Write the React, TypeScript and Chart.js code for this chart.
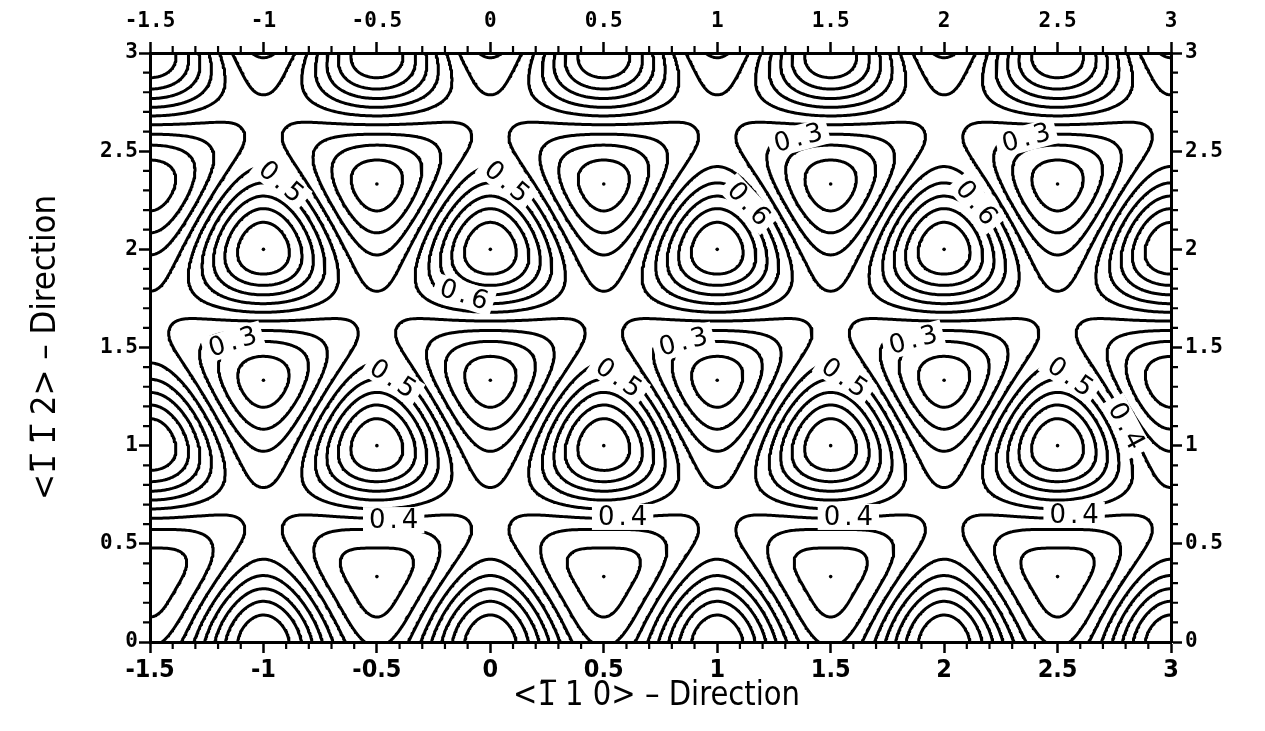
import React, { useEffect, useRef } from 'react';
import { Chart, registerables } from 'chart.js';

Chart.register(...registerables);

// ---- axes ----
const X_MIN = -1.5;
const X_MAX = 3;
const Y_MIN = 0;
const Y_MAX = 3;
const xTickValues = [-1.5, -1, -0.5, 0, 0.5, 1, 1.5, 2, 2.5, 3];
const xTickLabels = ['-1.5', '-1', '-0.5', '0', '0.5', '1', '1.5', '2', '2.5', '3'];
const yTickValues = [0, 0.5, 1, 1.5, 2, 2.5, 3];
const yTickLabels = ['0', '0.5', '1', '1.5', '2', '2.5', '3'];
const MINOR_STEP = 0.1;

const xTitle = '<1\u0305 1 0> \u2013 Direction';
const yTitle = '<1\u0305 1\u0305 2> \u2013 Direction';

// ---- contour levels of the adsorption energy surface ----
const contourLevels = [0.1, 0.2, 0.3, 0.4, 0.5, 0.6, 0.7, 0.8, 0.9];

// energies at the three high-symmetry sites of the (111) surface
const topSiteEnergy = 1.01; // on-top site (maximum)
const plateauEnergy = 0.427; // second hollow site
const wellSiteEnergy = 0.04; // preferred hollow site (minimum)
const topSharpness = 1.0;
const wellSharpness = 0.724;

// rows of hollows whose wells are shallower
const shallowRowY = [0.333, 3.333];
const shallowRowLift = [0.13, 0.16];
const shallowRowSharpness = 4;

// site markers (dots at the extrema)
const wellDotX = [-0.5, 0.5, 1.5, 2.5, -1, 0, 1, 2, -0.5, 0.5, 1.5, 2.5];
const wellDotY = [2.333, 2.333, 2.333, 2.333, 1.333, 1.333, 1.333, 1.333, 0.333, 0.333, 0.333, 0.333];
const topDotX = [-1, 0, 1, 2, -0.5, 0.5, 1.5, 2.5];
const topDotY = [2, 2, 2, 2, 1, 1, 1, 1];

// inline contour labels
const labelText = ['0.5', '0.5', '0.6', '0.6', '0.3', '0.6', '0.3', '0.3', '0.5', '0.4', '0.3', '0.5', '0.3', '0.5', '0.4', '0.4', '0.4', '0.5', '0.4'];
const labelX = [-0.923, 0.072, -0.117, 1.138, 1.358, 2.142, 2.362, -1.135, -0.43, -0.426, 0.851, 0.565, 1.864, 1.56, 0.583, 1.578, 2.573, 2.555, 2.802];
const labelY = [2.343, 2.343, 1.768, 2.231, 2.567, 2.236, 2.567, 1.528, 1.34, 0.621, 1.528, 1.345, 1.538, 1.345, 0.637, 0.637, 0.647, 1.35, 1.1];
const labelAngle = [40, 40, 18, 47, -15, 50, -15, -17, 33, 0, -15, 35, -15, 35, 0, 0, 0, 35, 62];

// ---- energy surface ----
const SQ3_2 = Math.sqrt(3) / 2;
const G = (4 * Math.PI) / Math.sqrt(3);
const gVecs = [90, 210, 330].map((a) => [G * Math.cos((a * Math.PI) / 180), G * Math.sin((a * Math.PI) / 180)]);

function energy(x: number, y: number): number {
  const px = x;
  const py = y * SQ3_2;
  let f = 0;
  let g = 0;
  for (const [gx, gy] of gVecs) {
    const ph = gx * px + gy * py;
    f += Math.cos(ph);
    g += Math.sin(ph);
  }
  const fWell = -0.5 * f + SQ3_2 * g;
  const top = Math.max(0, (f + 1.5) / 4.5);
  const well = Math.max(0, (fWell + 1.5) / 4.5);
  let e =
    plateauEnergy +
    (topSiteEnergy - plateauEnergy) * Math.pow(top, topSharpness) -
    (plateauEnergy - wellSiteEnergy) * Math.pow(well, wellSharpness);
  shallowRowY.forEach((ry, k) => {
    if (Math.abs(y - ry) < 0.5) e += shallowRowLift[k] * Math.pow(well, shallowRowSharpness);
  });
  return e;
}

type Pt = { x: number; y: number };

function contourLines(values: Float64Array, xs: number[], ys: number[], level: number): Pt[][] {
  const nx = xs.length;
  const ny = ys.length;
  const val = (i: number, j: number) => values[j * nx + i];
  const pointOf = new Map<number, Pt>();
  const segA: number[] = [];
  const segB: number[] = [];
  const hId = (i: number, j: number) => j * nx + i;
  const vId = (i: number, j: number) => nx * ny + j * nx + i;
  const edgePt = (id: number) => {
    if (pointOf.has(id)) return;
    let p: Pt;
    if (id < nx * ny) {
      const j = Math.floor(id / nx);
      const i = id % nx;
      const a = val(i, j);
      const b = val(i + 1, j);
      const t = (level - a) / (b - a);
      p = { x: xs[i] + t * (xs[i + 1] - xs[i]), y: ys[j] };
    } else {
      const k = id - nx * ny;
      const j = Math.floor(k / nx);
      const i = k % nx;
      const a = val(i, j);
      const b = val(i, j + 1);
      const t = (level - a) / (b - a);
      p = { x: xs[i], y: ys[j] + t * (ys[j + 1] - ys[j]) };
    }
    pointOf.set(id, p);
  };
  const add = (a: number, b: number) => {
    edgePt(a);
    edgePt(b);
    segA.push(a);
    segB.push(b);
  };
  for (let j = 0; j < ny - 1; j++) {
    for (let i = 0; i < nx - 1; i++) {
      const v0 = val(i, j);
      const v1 = val(i + 1, j);
      const v2 = val(i + 1, j + 1);
      const v3 = val(i, j + 1);
      const b0 = v0 >= level;
      const b1 = v1 >= level;
      const b2 = v2 >= level;
      const b3 = v3 >= level;
      const e: number[] = [];
      if (b0 !== b1) e.push(hId(i, j));
      if (b1 !== b2) e.push(vId(i + 1, j));
      if (b2 !== b3) e.push(hId(i, j + 1));
      if (b3 !== b0) e.push(vId(i, j));
      if (e.length === 2) add(e[0], e[1]);
      else if (e.length === 4) {
        const c = (v0 + v1 + v2 + v3) / 4 >= level;
        if (c === b0) {
          add(e[0], e[1]);
          add(e[2], e[3]);
        } else {
          add(e[0], e[3]);
          add(e[2], e[1]);
        }
      }
    }
  }
  const adj = new Map<number, number[]>();
  for (let s = 0; s < segA.length; s++) {
    for (const id of [segA[s], segB[s]]) {
      const l = adj.get(id);
      if (l) l.push(s);
      else adj.set(id, [s]);
    }
  }
  const used = new Uint8Array(segA.length);
  const walk = (startSeg: number, startId: number): Pt[] => {
    const ids = [startId];
    let seg = startSeg;
    let cur = startId;
    for (;;) {
      used[seg] = 1;
      const next = segA[seg] === cur ? segB[seg] : segA[seg];
      ids.push(next);
      let found = -1;
      for (const s of adj.get(next)!) {
        if (!used[s]) {
          found = s;
          break;
        }
      }
      if (found < 0) break;
      seg = found;
      cur = next;
    }
    return ids.map((id) => pointOf.get(id)!);
  };
  const lines: Pt[][] = [];
  for (const [id, list] of adj) {
    if (list.length === 1 && !used[list[0]]) lines.push(walk(list[0], id));
  }
  for (let s = 0; s < segA.length; s++) {
    if (!used[s]) lines.push(walk(s, segA[s]));
  }
  return lines;
}

function buildDatasets() {
  const step = 0.0075;
  const xs: number[] = [];
  const ys: number[] = [];
  for (let k = 0; X_MIN + k * step <= X_MAX + 1e-9; k++) xs.push(X_MIN + k * step);
  for (let k = 0; Y_MIN + k * step <= Y_MAX + 1e-9; k++) ys.push(Y_MIN + k * step);
  const values = new Float64Array(xs.length * ys.length);
  for (let j = 0; j < ys.length; j++) {
    for (let i = 0; i < xs.length; i++) values[j * xs.length + i] = energy(xs[i], ys[j]);
  }
  const datasets: any[] = [];
  for (const level of contourLevels) {
    for (const line of contourLines(values, xs, ys, level)) {
      if (line.length < 2) continue;
      datasets.push({
        label: `E = ${level}`,
        data: line,
        showLine: true,
        parsing: false,
        borderColor: '#000',
        borderWidth: 3,
        borderJoinStyle: 'round',
        borderCapStyle: 'round',
        pointRadius: 0,
        tension: 0,
        fill: false,
      });
    }
  }
  const dots: Pt[] = [];
  wellDotX.forEach((x, k) => dots.push({ x, y: wellDotY[k] }));
  topDotX.forEach((x, k) => dots.push({ x, y: topDotY[k] }));
  datasets.push({
    label: 'sites',
    data: dots,
    showLine: false,
    parsing: false,
    pointRadius: 1.8,
    pointBackgroundColor: '#000',
    pointBorderWidth: 0,
  });
  return datasets;
}

const minorTicksPlugin = {
  id: 'minorTicks',
  afterDraw(chart: any) {
    const { ctx, chartArea: a, scales } = chart;
    const len = 7;
    ctx.save();
    ctx.strokeStyle = '#000';
    ctx.lineWidth = 2.2;
    ctx.beginPath();
    const nX = Math.round((X_MAX - X_MIN) / MINOR_STEP);
    for (let k = 0; k <= nX; k++) {
      if (k % 5 === 0) continue;
      const px = scales.x.getPixelForValue(X_MIN + k * MINOR_STEP);
      ctx.moveTo(px, a.bottom);
      ctx.lineTo(px, a.bottom + len);
      ctx.moveTo(px, a.top);
      ctx.lineTo(px, a.top - len);
    }
    const nY = Math.round((Y_MAX - Y_MIN) / MINOR_STEP);
    for (let k = 0; k <= nY; k++) {
      if (k % 5 === 0) continue;
      const py = scales.y.getPixelForValue(Y_MIN + k * MINOR_STEP);
      ctx.moveTo(a.left, py);
      ctx.lineTo(a.left - len, py);
      ctx.moveTo(a.right, py);
      ctx.lineTo(a.right + len, py);
    }
    ctx.stroke();
    ctx.restore();
  },
};

const contourLabelPlugin = {
  id: 'contourLabels',
  afterDatasetsDraw(chart: any) {
    const { ctx, scales } = chart;
    ctx.save();
    ctx.font = '26px "DejaVu Sans"';
    (ctx as any).letterSpacing = '4px';
    ctx.textAlign = 'center';
    ctx.textBaseline = 'middle';
    labelText.forEach((text, k) => {
      const px = scales.x.getPixelForValue(labelX[k]);
      const py = scales.y.getPixelForValue(labelY[k]);
      const w = ctx.measureText(text).width;
      ctx.save();
      ctx.translate(px, py);
      ctx.rotate((labelAngle[k] * Math.PI) / 180);
      ctx.fillStyle = '#fff';
      ctx.fillRect(-w / 2 - 4, -13, w + 8, 26);
      ctx.fillStyle = '#000';
      ctx.fillText(text, 2, 1);
      ctx.restore();
    });
    ctx.restore();
  },
};

// axis titles, stretched to the widths of the printed captions
const axisTitlePlugin = {
  id: 'axisTitles',
  afterDraw(chart: any) {
    const { ctx, chartArea: a } = chart;
    ctx.save();
    ctx.font = '34px "DejaVu Sans Condensed", "DejaVu Sans"';
    ctx.fillStyle = '#000';
    ctx.textAlign = 'center';
    ctx.textBaseline = 'alphabetic';
    const w1 = ctx.measureText(xTitle).width;
    ctx.save();
    ctx.translate((a.left + a.right) / 2 - 4, 705);
    ctx.scale(287 / w1, 1);
    ctx.fillText(xTitle, 0, 0);
    ctx.restore();
    const w2 = ctx.measureText(yTitle).width;
    ctx.save();
    ctx.translate(55, (a.top + a.bottom) / 2);
    ctx.rotate(-Math.PI / 2);
    ctx.scale(305 / w2, 1);
    ctx.fillText(yTitle, 0, 0);
    ctx.restore();
    ctx.restore();
  },
};

const tickFont = { family: '"DejaVu Sans Mono"', size: 21, weight: 'bold' as const };
const bottomTickFont = { family: '"DejaVu Sans Condensed", "DejaVu Sans"', size: 25, weight: 'bold' as const };

function axisCommon(values: number[], labels: string[], min: number, max: number, font: any, padding: number) {
  return {
    type: 'linear' as const,
    min,
    max,
    afterBuildTicks: (scale: any) => {
      scale.ticks = values.map((value) => ({ value }));
    },
    ticks: {
      callback: (_v: any, index: number) => labels[index],
      font,
      color: '#000',
      autoSkip: false,
      maxRotation: 0,
      padding,
    },
    grid: {
      display: true,
      drawOnChartArea: false,
      drawTicks: true,
      tickLength: 11,
      tickWidth: 2.5,
      tickColor: '#000',
    },
    border: { display: true, color: '#000', width: 3 },
    title: { display: false },
  };
}

export default function App() {
  const ref = useRef<HTMLCanvasElement>(null);
  useEffect(() => {
    const canvas = ref.current;
    if (!canvas) return;
    const chart = new Chart(canvas, {
      type: 'scatter',
      data: { datasets: buildDatasets() },
      options: {
        animation: false,
        responsive: false,
        devicePixelRatio: 1,
        events: [],
        layout: { padding: 0 },
        plugins: { legend: { display: false }, tooltip: { enabled: false }, title: { display: false } },
        scales: {
          x: {
            ...axisCommon(xTickValues, xTickLabels, X_MIN, X_MAX, bottomTickFont, 2),
            position: 'bottom',
            afterFit: (s: any) => {
              s.height = 89;
            },
          },
          x2: {
            ...axisCommon(xTickValues, xTickLabels, X_MIN, X_MAX, tickFont, 8),
            position: 'top',
            afterFit: (s: any) => {
              s.height = 53;
            },
          },
          y: {
            ...axisCommon(yTickValues, yTickLabels, Y_MIN, Y_MAX, tickFont, 1),
            position: 'left',
            afterFit: (s: any) => {
              s.width = 150;
            },
          },
          y2: {
            ...axisCommon(yTickValues, yTickLabels, Y_MIN, Y_MAX, tickFont, 3),
            position: 'right',
            afterFit: (s: any) => {
              s.width = 94;
            },
          },
        } as any,
      },
      plugins: [minorTicksPlugin, contourLabelPlugin, axisTitlePlugin],
    });
    return () => chart.destroy();
  }, []);
  return (
    <div style={{ position: 'fixed', left: 0, top: 0, width: 1265, height: 731, background: '#fff' }}>
      <canvas ref={ref} width={1265} height={731} style={{ display: 'block', width: 1265, height: 731 }} />
    </div>
  );
}
